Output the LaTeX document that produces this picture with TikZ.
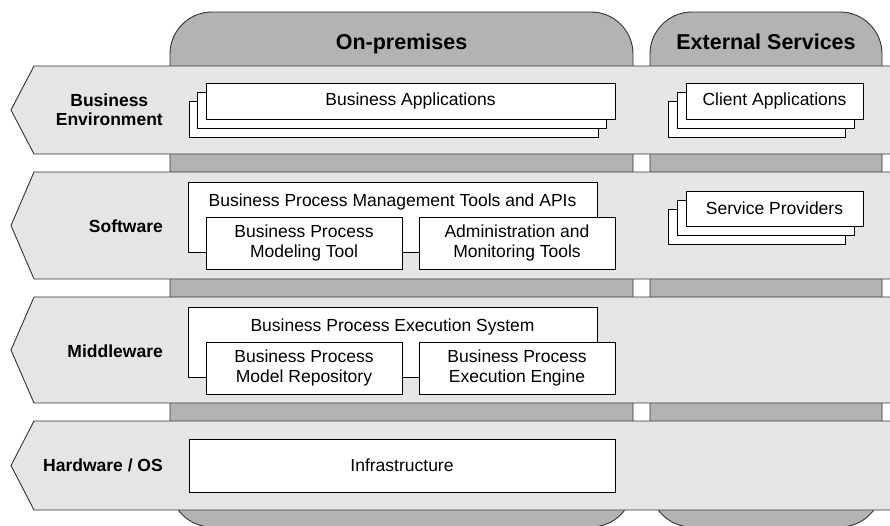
\documentclass[tikz,border=0pt]{standalone}
\usepackage{fontspec}
\setmainfont{Liberation Sans}
\definecolor{colfill}{HTML}{B3B3B3}
\definecolor{bandfill}{HTML}{E5E5E5}
\definecolor{edge}{HTML}{333333}
\begin{document}
\begin{tikzpicture}[x=1pt,y=-1pt,
  column/.style={fill=colfill,draw=edge,line width=0.9pt,rounded corners=42pt},
  band/.style={fill=bandfill,draw=edge,line width=0.9pt},
  box/.style={draw=black,fill=white,line width=0.8pt,inner sep=0pt,align=center,
    font=\fontsize{17.5}{20}\selectfont},
  boxtext/.style={inner sep=0pt,font=\fontsize{17.5}{20}\selectfont},
  lane/.style={anchor=east,align=center,inner sep=0pt,font=\fontsize{17.5}{19}\selectfont\bfseries},
  title/.style={inner sep=0pt,font=\fontsize{21.5}{24}\selectfont\bfseries}]
\useasboundingbox (0,0) rectangle (890,525);
\clip (0,0) rectangle (890,525);
% columns
\draw[column] (170,12) rectangle (633,527);
\draw[column] (650,12) rectangle (882,527);
\node[title,anchor=base] (onprem) at (401.5,49) {On-premises};
\node[title,anchor=base] (ext) at (766,49) {External Services};
% bands
\draw[band] (895,66) -- (34,66) -- (11,110) -- (34,154) -- (895,154);
\draw[band] (895,172) -- (34,172) -- (11,225.5) -- (34,279) -- (895,279);
\draw[band] (895,297) -- (34,297) -- (11,350) -- (34,403) -- (895,403);
\draw[band] (895,421) -- (34,421) -- (11,465.5) -- (34,510) -- (895,510);
\node[lane] (lbe) at (163,110) {Business\\Environment};
\node[lane] (lsw) at (163,226) {Software};
\node[lane] (lmw) at (163,351) {Middleware};
\node[lane] (lhw) at (163,465.5) {Hardware / OS};
% business applications
\node[box,minimum width=409pt,minimum height=36pt] (ba3) at (393.5,119) {};
\node[box,minimum width=409pt,minimum height=36pt] (ba2) at (402,110) {};
\node[box,minimum width=409pt,minimum height=36pt] (ba1) at (410.5,101) {Business Applications};
% client applications
\node[box,minimum width=177pt,minimum height=36pt] (ca3) at (756.5,119) {};
\node[box,minimum width=177pt,minimum height=36pt] (ca2) at (765.5,110) {};
\node[box,minimum width=177pt,minimum height=36pt] (ca1) at (774.5,101) {Client Applications};
% service providers
\node[box,minimum width=177pt,minimum height=35pt] (sp3) at (756.5,226.5) {};
\node[box,minimum width=177pt,minimum height=35pt] (sp2) at (765.5,217.5) {};
\node[box,minimum width=177pt,minimum height=35pt] (sp1) at (774.5,208.5) {Service Providers};
% software
\node[box,minimum width=409pt,minimum height=70pt] (bpm) at (392.5,217) {};
\node[boxtext] (bpmt) at (392.5,202) {Business Process Management Tools and APIs};
\node[box,minimum width=196pt,minimum height=52pt] (mod) at (304,243) {Business Process\\Modeling Tool};
\node[box,minimum width=196pt,minimum height=52pt] (adm) at (517,243) {Administration and\\Monitoring Tools};
% middleware
\node[box,minimum width=409pt,minimum height=70pt] (bpes) at (392.5,342) {};
\node[boxtext] (bpest) at (392.5,327) {Business Process Execution System};
\node[box,minimum width=196pt,minimum height=52pt] (rep) at (304,368) {Business Process\\Model Repository};
\node[box,minimum width=196pt,minimum height=52pt] (eng) at (517,368) {Business Process\\Execution Engine};
% hardware
\node[box,minimum width=426pt,minimum height=53pt] (infra) at (402,465.5) {Infrastructure};
\end{tikzpicture}
\end{document}
